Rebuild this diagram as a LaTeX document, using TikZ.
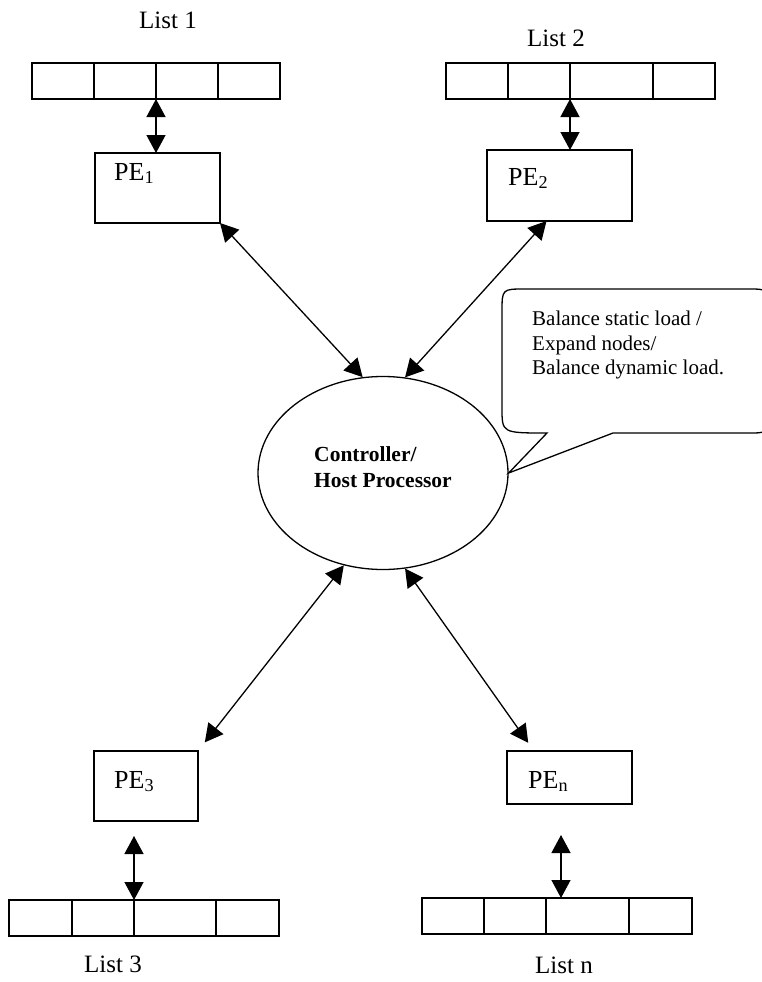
\documentclass[tikz,border=0pt]{standalone}
\usepackage{fontspec}
\setmainfont{Liberation Serif}
\usepackage{tikz}
\usetikzlibrary{positioning, shapes.geometric, arrows.meta}

\begin{document}
\begin{tikzpicture}[
    x=1pt, y=-1pt,
    node distance=0pt,
    cell/.style={rectangle, draw=black, line width=1.6pt, minimum height=36pt, inner sep=0pt, outer sep=0pt},
    pebox/.style={rectangle, draw=black, line width=1.3pt, inner sep=0pt, outer sep=0pt},
    petext/.style={anchor=base west, inner sep=0pt, font=\fontsize{26}{30}\selectfont},
    listlabel/.style={anchor=base, inner sep=0pt, font=\fontsize{25}{30}\selectfont},
    host/.style={ellipse, draw=black, line width=1.3pt, minimum width=250pt, minimum height=193pt, align=left, text depth=12pt, font=\bfseries\fontsize{21.5}{26}\selectfont},
    link/.style={{Triangle[length=18pt,width=19pt]}-{Triangle[length=18pt,width=19pt]}, line width=1.3pt},
    bubble/.style={draw=black, line width=1.3pt},
    note/.style={anchor=north west, inner sep=0pt, align=left, font=\fontsize{21}{24.5}\selectfont}
]
\clip (0,0) rectangle (762,982);

% Lists
\node[cell, minimum width=62pt, anchor=north west] (l1a) at (32,63) {};
\node[cell, minimum width=62pt, right=of l1a] (l1b) {};
\node[cell, minimum width=62pt, right=of l1b] (l1c) {};
\node[cell, minimum width=62pt, right=of l1c] (l1d) {};

\node[cell, minimum width=62pt, anchor=north west] (l2a) at (446,63) {};
\node[cell, minimum width=62pt, right=of l2a] (l2b) {};
\node[cell, minimum width=83pt, right=of l2b] (l2c) {};
\node[cell, minimum width=62pt, right=of l2c] (l2d) {};

\node[cell, minimum width=63pt, anchor=north west] (l3a) at (9,900) {};
\node[cell, minimum width=62pt, right=of l3a] (l3b) {};
\node[cell, minimum width=82pt, right=of l3b] (l3c) {};
\node[cell, minimum width=63pt, right=of l3c] (l3d) {};

\node[cell, minimum width=62pt, anchor=north west] (l4a) at (422,898) {};
\node[cell, minimum width=62pt, right=of l4a] (l4b) {};
\node[cell, minimum width=83pt, right=of l4b] (l4c) {};
\node[cell, minimum width=63pt, right=of l4c] (l4d) {};

% List names
\node[listlabel] (n1) at (168,29) {List 1};
\node[listlabel] (n2) at (556,47) {List 2};
\node[listlabel] (n3) at (113,972) {List 3};
\node[listlabel] (n4) at (564,973) {List n};

% Processing elements
\node[pebox, minimum width=125pt, minimum height=70pt, anchor=north west] (p1) at (95,153) {};
\node[pebox, minimum width=145pt, minimum height=71pt, anchor=north west] (p2) at (487,150) {};
\node[pebox, minimum width=104pt, minimum height=70pt, anchor=north west] (p3) at (94,751) {};
\node[pebox, minimum width=125pt, minimum height=53pt, anchor=north west] (p4) at (507,751) {};

\node[petext] (p1t) at ([shift={(19,27)}]p1.north west) {PE\textsubscript{1}};
\node[petext] (p2t) at ([shift={(21,35)}]p2.north west) {PE\textsubscript{2}};
\node[petext] (p3t) at ([shift={(20,37)}]p3.north west) {PE\textsubscript{3}};
\node[petext] (p4t) at ([shift={(21,37)}]p4.north west) {PE\textsubscript{n}};

% Controller
\node[host] (ctrl) at (383,473) {Controller/\\Host Processor};

% Speech bubble
\draw[bubble] (613,433) -- (748,433) .. controls (768,433) .. (768,413) -- (768,309)
    .. controls (768,289) .. (748,289) -- (525,289) .. controls (502,289) .. (502,312)
    -- (502,408) .. controls (502,433) .. (547,433) -- (ctrl.east) -- cycle;
\node[note] (task) at (532,311) {Balance static load /\\Expand nodes/\\Balance dynamic load.};

% List <-> PE
\coordinate (tapn) at ([xshift=15pt]l4c.north west);
\draw[link] (l1b.south east) -- (l1b.south east |- p1.north);
\draw[link] (l2b.south east) -- (l2b.south east |- p2.north);
\draw[link, shorten <=15pt] (l3b.north east |- p3.south) -- (l3b.north east);
\draw[link, shorten <=31pt] (tapn |- p4.south) -- (tapn);

% PE <-> controller
\draw[link] (p1.south east) -- (ctrl.102);
\draw[link] ([xshift=-13pt]p2.south) -- (ctrl.77);
\draw[link, shorten <=11pt] (p3.north east) -- (ctrl.247);
\draw[link, shorten <=10pt] ([xshift=27pt]p4.north west) -- (ctrl.283);

\end{tikzpicture}
\end{document}
